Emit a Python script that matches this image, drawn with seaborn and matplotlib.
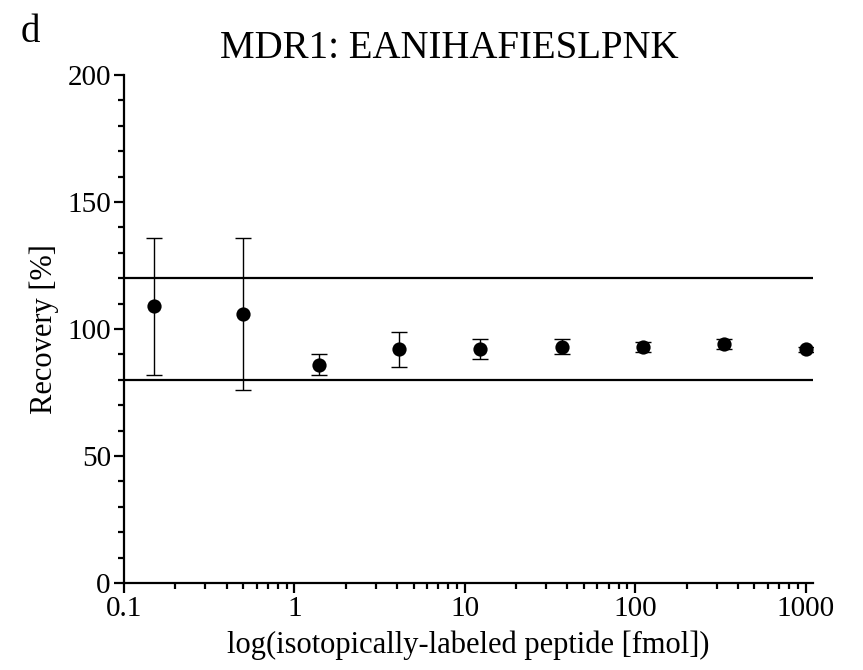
import numpy as np
import pandas as pd
import matplotlib
matplotlib.use('Agg')
import matplotlib.pyplot as plt
import matplotlib.ticker as mticker
import seaborn as sns

# Data
amount_fmol = [0.15, 0.5, 1.4, 4.1, 12.3, 37, 111, 333, 1000]
recovery = [109, 106, 86, 92, 92, 93, 93, 94, 92]
recovery_sd = [27, 30, 4, 7, 4, 3, 2, 2, 1]
limits = [80, 120]

df = pd.DataFrame({'amount': amount_fmol, 'recovery': recovery, 'sd': recovery_sd})

sns.set_style('ticks')
plt.rcParams['font.family'] = ['Liberation Serif', 'DejaVu Serif']
plt.rcParams['text.color'] = 'black'
plt.rcParams['axes.labelcolor'] = 'black'
plt.rcParams['xtick.color'] = 'black'
plt.rcParams['ytick.color'] = 'black'
plt.rcParams['axes.edgecolor'] = 'black'

fig = plt.figure(figsize=(8.63, 6.70), dpi=100)
ax = fig.add_axes([0.1437, 0.1299, 0.7980, 0.7582])

# acceptance limits
for lim in limits:
    ax.axhline(lim, color='black', lw=1.6, zorder=1)

ax.errorbar(df['amount'], df['recovery'], yerr=df['sd'], fmt='none',
            ecolor='black', elinewidth=1.0, capsize=5.5, capthick=1.0, zorder=2)
sns.scatterplot(data=df, x='amount', y='recovery', ax=ax, color='black',
                s=105, edgecolor='black', linewidth=0, zorder=3, legend=False)

ax.set_xscale('log')
ax.set_xlim(0.1, 1100)
ax.set_ylim(0, 200)
ax.set_yticks([0, 50, 100, 150, 200])
ax.yaxis.set_minor_locator(mticker.MultipleLocator(10))
ax.xaxis.set_major_locator(mticker.FixedLocator([0.1, 1, 10, 100, 1000]))
ax.xaxis.set_major_formatter(mticker.FixedFormatter(['0.1', '1', '10', '100', '1000']))
ax.xaxis.set_minor_locator(mticker.LogLocator(base=10, subs=np.arange(2, 10)))
ax.xaxis.set_minor_formatter(mticker.NullFormatter())

sns.despine(ax=ax)
for sp in ['left', 'bottom']:
    ax.spines[sp].set_linewidth(1.6)
ax.tick_params(which='major', length=7.5, width=1.6, labelsize=21, pad=2)
ax.tick_params(which='minor', length=4, width=1.6)

ax.set_xlabel('log(isotopically-labeled peptide [fmol])', fontsize=22, labelpad=6)
ax.set_ylabel('Recovery [%]', fontsize=22, labelpad=6)
ax.set_title('MDR1: EANIHAFIESLPNK', fontsize=28, pad=12, x=0.472)
fig.text(0.024, 0.952, 'd', fontsize=28, va='center', ha='left')

fig.savefig('out.png', dpi=100)
plt.close(fig)
